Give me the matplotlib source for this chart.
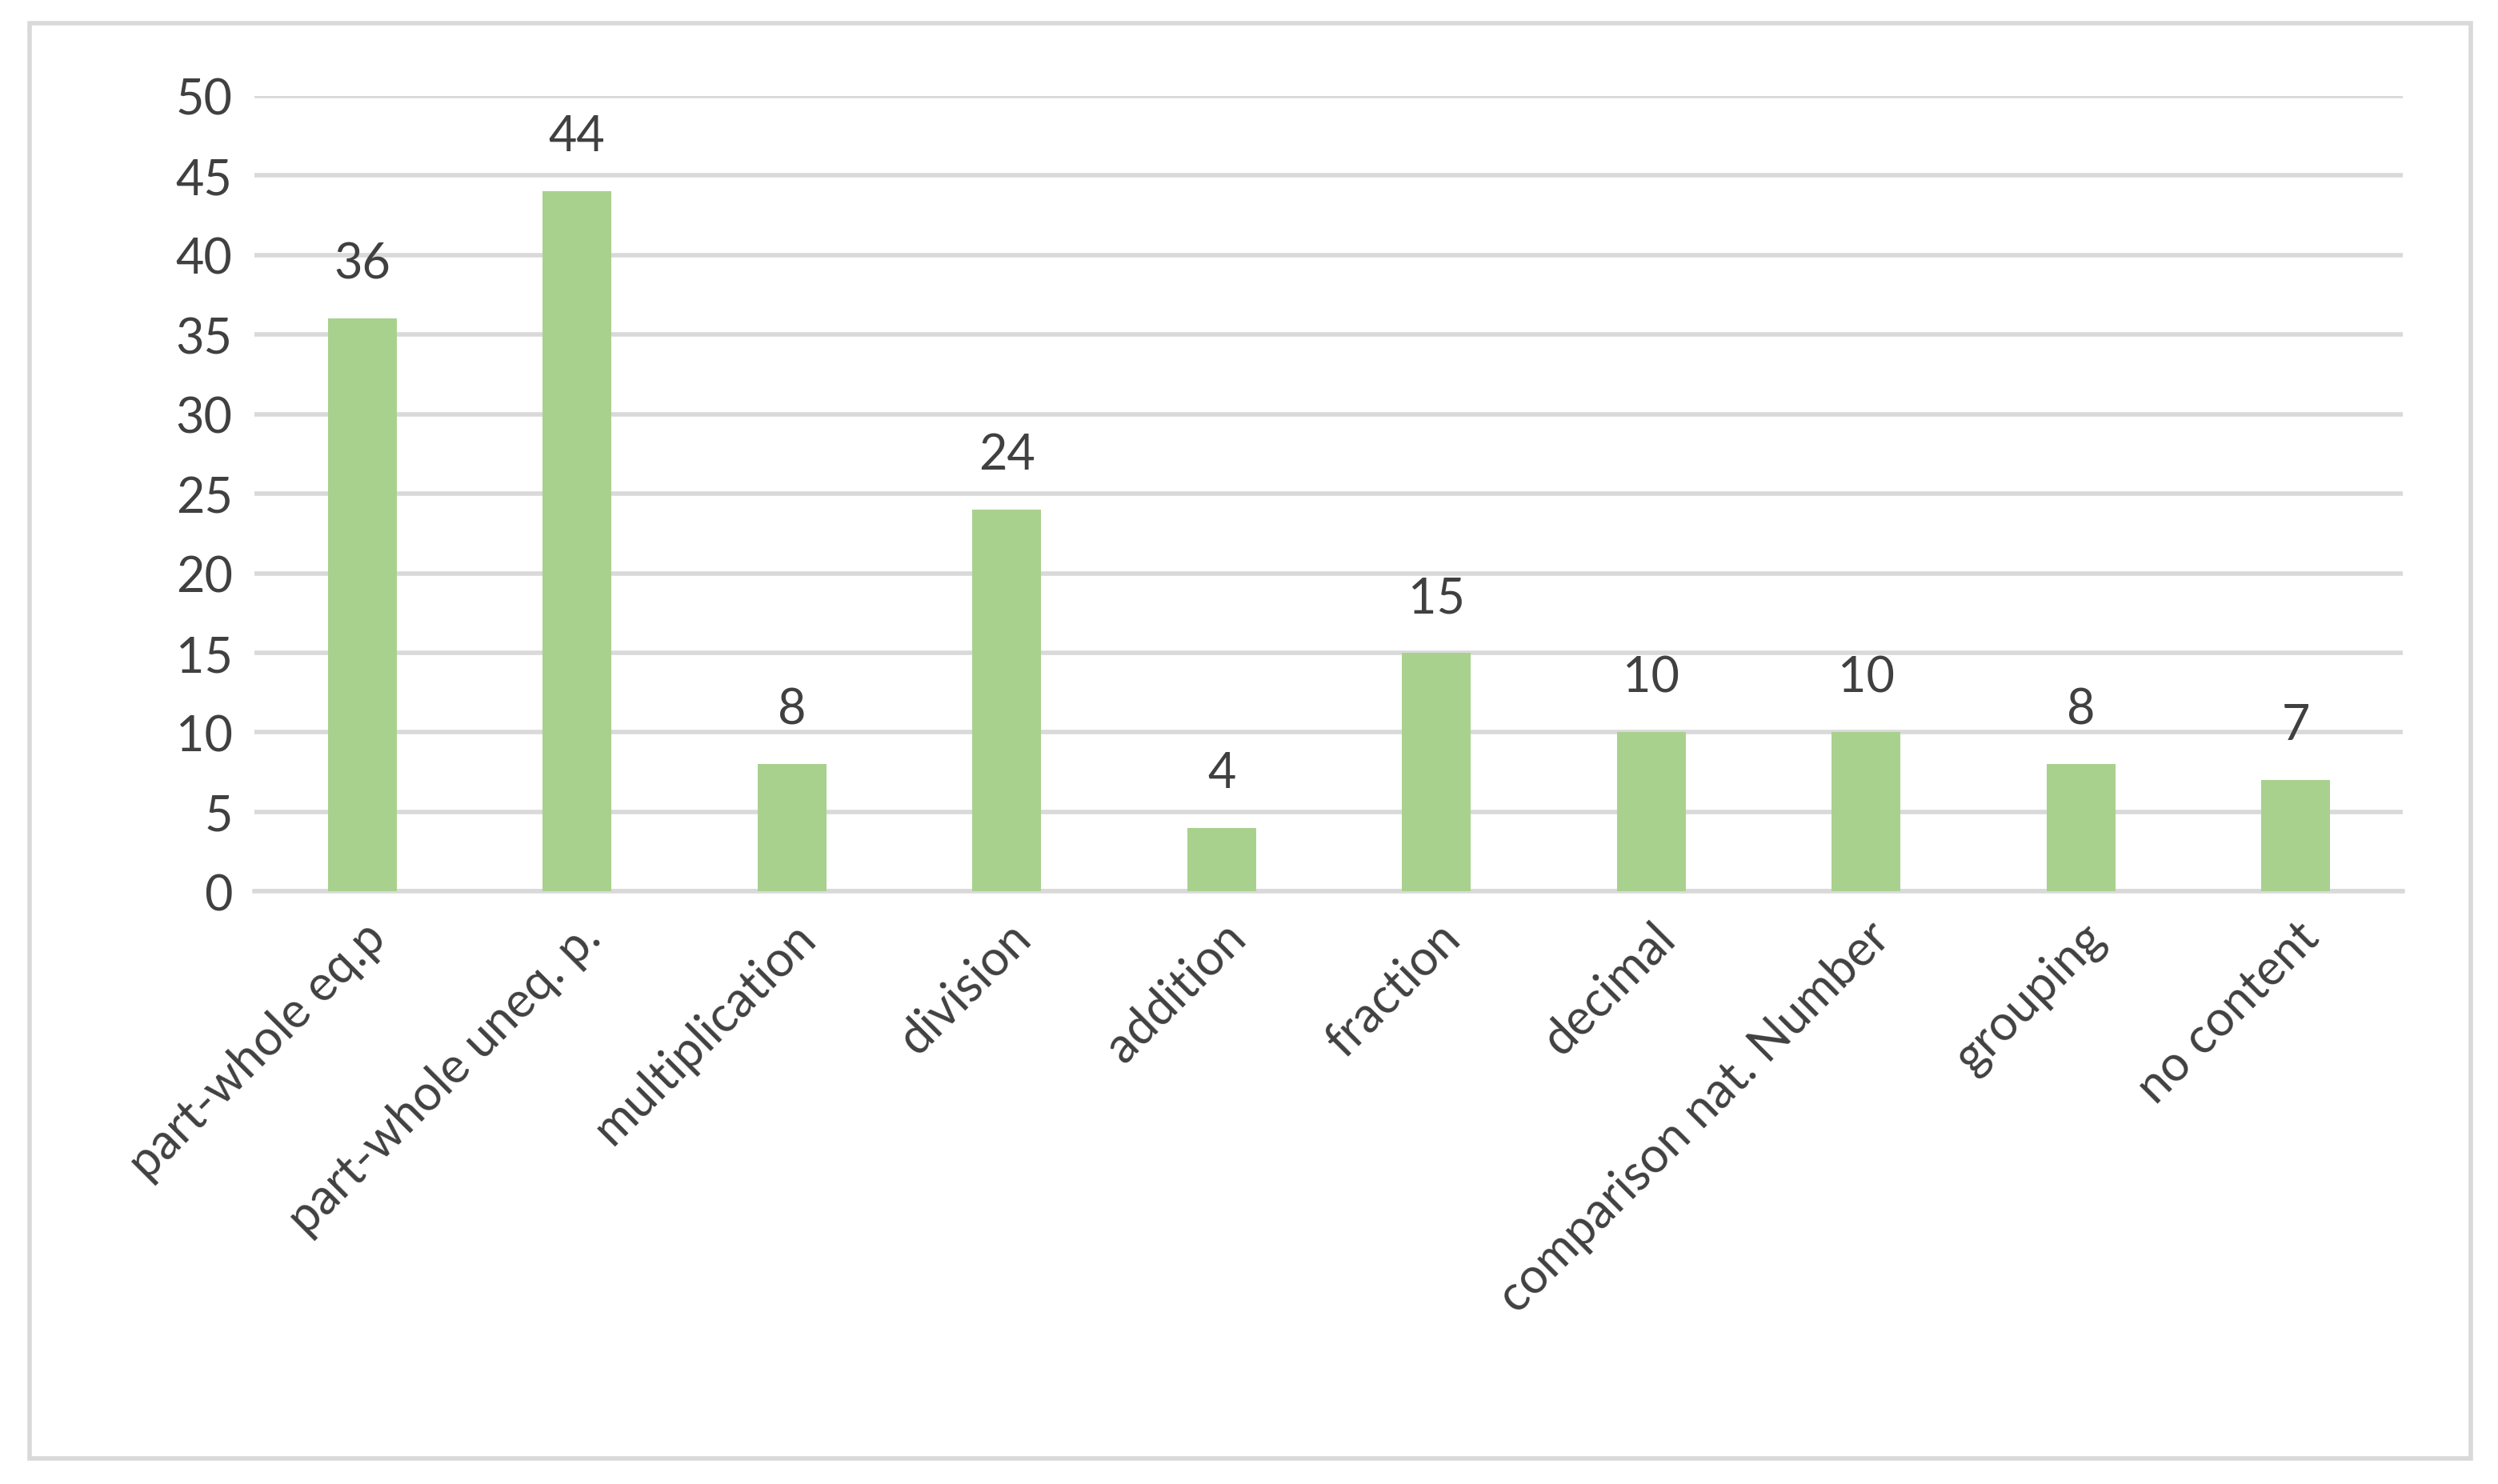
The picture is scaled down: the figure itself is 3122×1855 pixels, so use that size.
import matplotlib.pyplot as plt
from matplotlib.patches import Rectangle

categories = ['part-whole eq.p', 'part-whole uneq. p.', 'multiplication', 'division',
              'addition', 'fraction', 'decimal', 'comparison nat. Number', 'grouping', 'no content']
values = [36, 44, 8, 24, 4, 15, 10, 10, 8, 7]

plt.rcParams['font.family'] = ['Lato', 'DejaVu Sans']

fig = plt.figure(figsize=(15.61, 9.28), dpi=200)
ax = fig.add_axes([0.102, 0.399, 0.86, 0.536])

x = range(len(categories))
bars = ax.bar(x, values, width=0.32, color='#A9D18E', zorder=3)
for xi, v in zip(x, values):
    ax.text(xi, v + 2, str(v), ha='center', va='bottom', fontsize=22, color='#404040')

ax.set_ylim(0, 50)
ax.set_xlim(-0.5, len(categories) - 0.5)
ax.set_yticks(range(0, 51, 5))
ax.yaxis.grid(True, color='#D9D9D9', linewidth=2, zorder=0)
for s in ['top', 'right', 'left']:
    ax.spines[s].set_visible(False)
ax.spines['bottom'].set_color('#D9D9D9')
ax.spines['bottom'].set_linewidth(2)
ax.tick_params(axis='both', length=0, labelsize=22, labelcolor='#404040', pad=10)
ax.set_xticks(list(x))
ax.set_xticklabels(categories, rotation=45, ha='right', rotation_mode='anchor')

fig.patches.append(Rectangle((0.012, 0.017), 0.977, 0.967, transform=fig.transFigure,
                             fill=False, edgecolor='#D9D9D9', linewidth=2))

fig.savefig('out.png', dpi=200)
